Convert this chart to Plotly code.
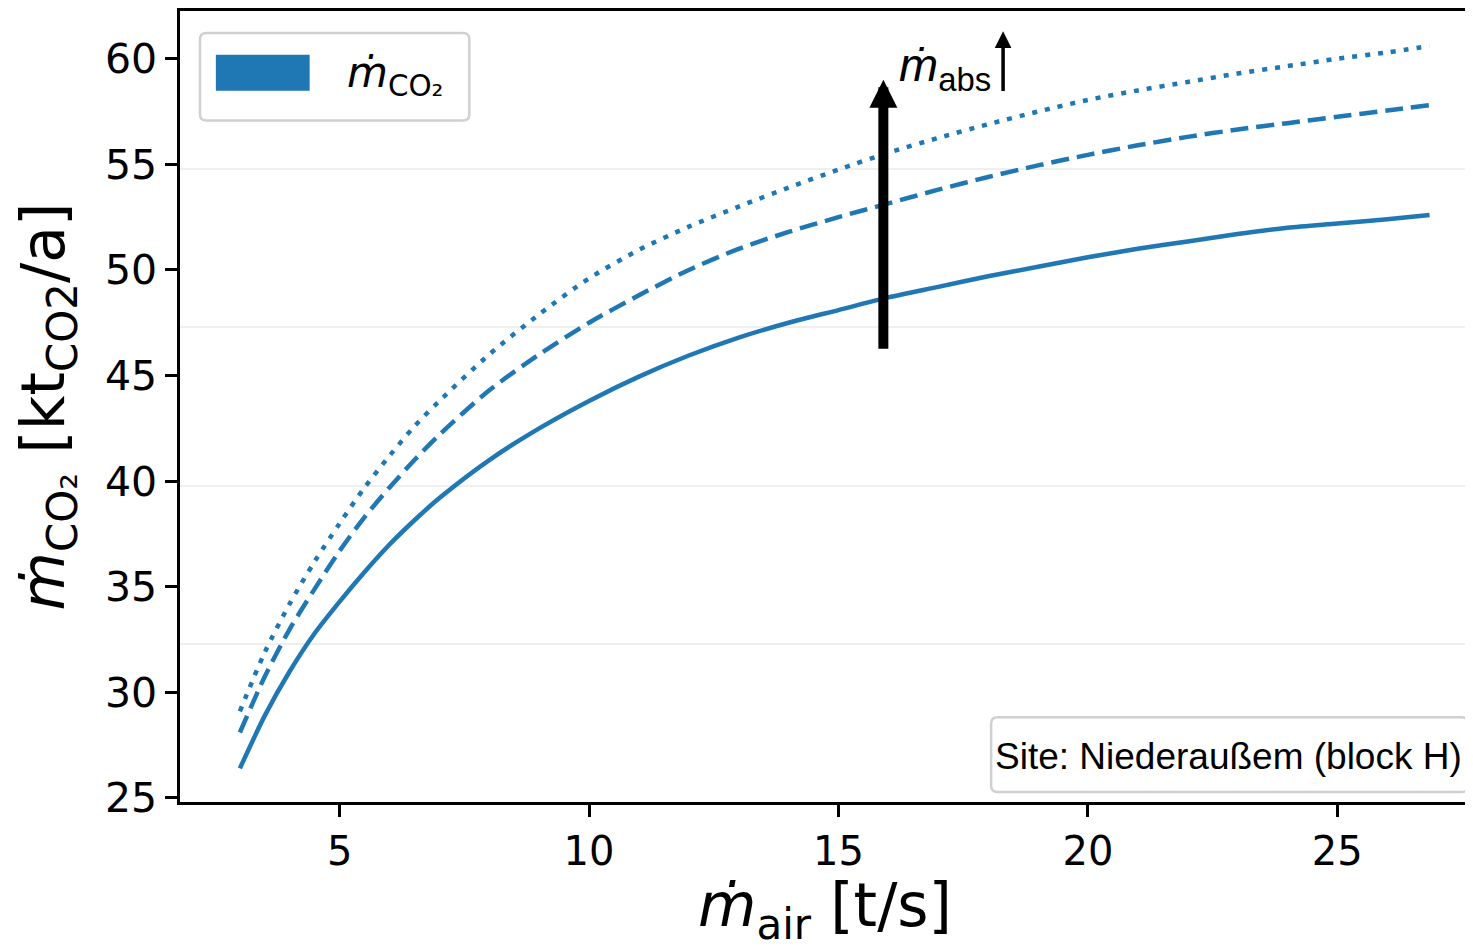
import plotly.graph_objects as go

# ---- data ----
x_air = [3, 3.5, 4, 4.5, 5, 5.5, 6, 6.5, 7, 8, 9, 10, 11, 12, 13, 14, 15, 16,
         17, 18, 19, 20, 21, 22, 23, 24, 25, 26, 26.85]
co2_base = [26.4, 28.9, 31.0, 32.8, 34.3, 35.7, 37.0, 38.15, 39.2, 41.0, 42.5, 43.8,
            44.95, 45.95, 46.8, 47.5, 48.1, 48.7, 49.2, 49.7, 50.15, 50.6, 51.0, 51.35,
            51.7, 52.0, 52.2, 52.4, 52.6]
co2_mid = [28.1, 30.75, 33.0, 34.9, 36.7, 38.3, 39.7, 41.0, 42.2, 44.3, 46.0, 47.5,
           48.8, 50.0, 51.0, 51.8, 52.5, 53.15, 53.8, 54.4, 54.95, 55.45, 55.9, 56.3,
           56.65, 56.95, 57.25, 57.55, 57.8]
co2_high = [29.1, 31.9, 34.2, 36.2, 38.0, 39.7, 41.2, 42.6, 43.8, 46.0, 47.9, 49.6,
            50.95, 52.05, 53.0, 53.9, 54.75, 55.55, 56.25, 56.9, 57.5, 58.05, 58.5, 58.9,
            59.3, 59.65, 60.0, 60.3, 60.6]

x_ticks = [5, 10, 15, 20, 25]
y_ticks = [25, 30, 35, 40, 45, 50, 55, 60]
twin_grid = [0.2, 0.4, 0.6, 0.8]

arrow_x = 15.9
arrow_from, arrow_to = 46.2, 59.0
abs_arrow_x = 18.3
abs_arrow_from, abs_arrow_to = 58.4, 61.3

BLUE = "#1f77b4"
TICKFONT = "DejaVu Sans"
ARIAL = "Liberation Sans, Arial, sans-serif"

fig = go.Figure()
for ys, dash in [(co2_base, "solid"), (co2_mid, "18px,8px"), (co2_high, "5px,8px")]:
    fig.add_trace(go.Scatter(x=x_air, y=ys, mode="lines",
                             line=dict(color=BLUE, width=4.5, dash=dash,
                                       shape="spline", smoothing=0.8),
                             showlegend=False, hoverinfo="skip"))
# invisible trace to activate twin axis (grid only)
fig.add_trace(go.Scatter(x=[x_air[0]], y=[0], yaxis="y2", mode="markers",
                         marker=dict(opacity=0), showlegend=False, hoverinfo="skip"))


def rrect(x0, y0, x1, y1, rx=0.005, ry=0.008):
    return (f"M{x0+rx},{y0} L{x1-rx},{y0} Q{x1},{y0} {x1},{y0+ry} "
            f"L{x1},{y1-ry} Q{x1},{y1} {x1-rx},{y1} L{x0+rx},{y1} "
            f"Q{x0},{y1} {x0},{y1-ry} L{x0},{y0+ry} Q{x0},{y0} {x0+rx},{y0} Z")


shapes = [
    # legend frame
    dict(type="path", xref="paper", yref="paper",
         path=rrect(0.0155, 0.8615, 0.2243, 0.9723),
         line=dict(color="#d0d0d0", width=2.5), fillcolor="white", layer="above"),
    # legend patch
    dict(type="rect", xref="paper", yref="paper", x0=0.0278, x1=0.1005,
         y0=0.8992, y1=0.9446, line=dict(width=0), fillcolor=BLUE, layer="above"),
    # site box
    dict(type="path", xref="paper", yref="paper",
         path=rrect(0.6288, 0.0126, 0.9985, 0.1071),
         line=dict(color="#d0d0d0", width=2.5), fillcolor="white", layer="above"),
]

annotations = [
    dict(xref="paper", yref="paper", x=0.1276, y=0.9181, xanchor="left", yanchor="middle",
         text="<i>ṁ</i><sub>CO₂</sub>", showarrow=False,
         font=dict(family=TICKFONT, size=42, color="black")),
    dict(xref="paper", yref="paper", x=0.8128, y=0.0579, xanchor="center", yanchor="middle",
         text="Site: Niederaußem (block H)", showarrow=False,
         font=dict(family=ARIAL, size=37, color="black")),
    # big arrow
    dict(x=arrow_x, y=arrow_to, ax=arrow_x, ay=arrow_from, xref="x", yref="y",
         axref="x", ayref="y", text="", showarrow=True, arrowhead=2,
         arrowwidth=10, arrowsize=0.56, arrowcolor="black"),
    # small arrow next to label
    dict(x=abs_arrow_x, y=abs_arrow_to, ax=abs_arrow_x, ay=abs_arrow_from, xref="x", yref="y",
         axref="x", ayref="y", text="", showarrow=True, arrowhead=2,
         arrowwidth=3.5, arrowsize=0.95, arrowcolor="black"),
    dict(x=18.1, y=59.55, xref="x", yref="y", xanchor="right", yanchor="middle",
         text="<i>ṁ</i><sub>abs</sub>", showarrow=False,
         font=dict(family=ARIAL, size=47, color="black")),
]

fig.update_layout(
    width=1465, height=941,
    margin=dict(l=172, r=0, t=0, b=147),
    paper_bgcolor="white", plot_bgcolor="white",
    font=dict(family=TICKFONT, color="black"),
    shapes=shapes, annotations=annotations,
    xaxis=dict(range=[1.8, 27.66], tickvals=x_ticks, ticks="outside", ticklen=12,
               tickwidth=2.5, tickcolor="black", showline=True, mirror=True,
               linecolor="black", linewidth=2.5, showgrid=False, zeroline=False,
               tickfont=dict(family=TICKFONT, size=40),
               title=dict(text="<i>ṁ</i><sub>air</sub> [t/s]", standoff=8,
                          font=dict(family=TICKFONT, size=60))),
    yaxis=dict(range=[24.81, 62.26], tickvals=y_ticks, ticks="outside", ticklen=12,
               tickwidth=2.5, tickcolor="black", showline=True, mirror=True,
               linecolor="black", linewidth=2.5, showgrid=False, zeroline=False,
               tickfont=dict(family=TICKFONT, size=41),
               title=dict(text="<i>ṁ</i><sub>CO₂</sub> [kt<sub>CO2</sub>/a]", standoff=24,
                          font=dict(family=TICKFONT, size=60))),
    yaxis2=dict(range=[0, 1], overlaying="y", side="right", tickvals=twin_grid,
                showticklabels=False, ticks="", showgrid=True, gridcolor="#efefef",
                gridwidth=2, zeroline=False, showline=False),
)

fig.write_html("out.html")
